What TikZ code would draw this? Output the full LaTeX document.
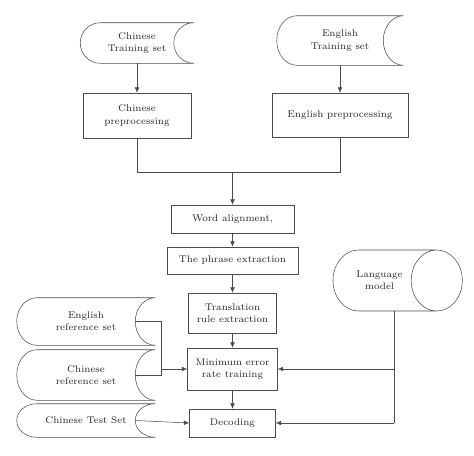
\documentclass[tikz,border=0pt]{standalone}
\usepackage{tikz}
\usetikzlibrary{arrows.meta,shapes.geometric,calc}
\tikzset{
    step-box/.style = {draw=black!70, fill=white, thin, rectangle, align=center, inner sep=2pt, font=\fontsize{7.3}{9.2}\selectfont, text=black!85},
    store-box/.style = {rectangle, align=center, inner sep=2pt, font=\fontsize{7.3}{9.2}\selectfont, text=black!85},
    arrow-line/.style = {draw=black!70, thin, -{Latex[length=4pt,width=3.5pt]}},
    plain-line/.style = {draw=black!70, thin},
}

\begin{document}
\begin{tikzpicture}[x=0.75pt,y=-0.75pt]
\useasboundingbox (0,0) rectangle (474,455);
% training data
\node[store-box, minimum width=84.75pt, minimum height=30pt] (chn-train) at (137,43) {Chinese\\Training set};
\node[store-box, minimum width=94.5pt, minimum height=36.75pt] (eng-train) at (340,40.5) {English\\Training set};
\node[step-box, minimum width=81pt, minimum height=33.75pt] (chn-pre) at (137,115.5) {Chinese\\preprocessing};
\node[step-box, minimum width=102pt, minimum height=33pt] (eng-pre) at (340,115) {English preprocessing};
% main chain
\node[step-box, minimum width=92.25pt, minimum height=21pt] (word) at (232.5,219) {Word alignment,};
\node[step-box, minimum width=98.25pt, minimum height=20.25pt] (phrase) at (232.5,260.5) {The phrase extraction};
\node[step-box, minimum width=66pt, minimum height=30pt] (rule) at (232.5,313) {Translation\\rule extraction};
\node[step-box, minimum width=67.5pt, minimum height=31.5pt] (mert) at (232.5,369) {Minimum error\\rate training};
\node[step-box, minimum width=64.5pt, minimum height=21pt] (decode) at (232.5,423) {Decoding};
% reference data
\node[store-box, minimum width=103.5pt, minimum height=35.25pt] (eng-ref) at (86,321.5) {English\\reference set};
\node[store-box, minimum width=103.5pt, minimum height=37.5pt] (chn-ref) at (86,375) {Chinese\\reference set};
\node[store-box, minimum width=103.5pt, minimum height=24.75pt] (chn-test) at (86,420.5) {Chinese Test Set};
\node[cylinder, draw=black!70, thin, shape aspect=2.1, minimum width=45.75pt, minimum height=97pt, align=center, inner sep=2pt, font=\fontsize{7.3}{9.2}\selectfont, text=black!85] (lm) at (379.5,280.5) {Language\\model};

% outlines of the stored data
\foreach \s in {chn-train,eng-train,eng-ref,chn-ref,chn-test}
    \draw[black!70, thin] let \p1=(\s.north east), \p2=(\s.south west), \n1={(\y1-\y2)/2} in
        (\p1) -- (\x2+15pt,\y1) arc[start angle=90, end angle=270, x radius=15pt, y radius=\n1]
        -- (\x1,\y2) arc[start angle=270, end angle=90, x radius=15pt, y radius=\n1];

\coordinate (join) at (232.5,172);
\coordinate (ref-join) at (161,369);
\coordinate (lm-foot) at (394,423);

\draw[arrow-line] (chn-train.south) -- (chn-pre.north);
\draw[arrow-line] (eng-train.south) -- (eng-pre.north);
\draw[plain-line] (chn-pre.south) |- (join);
\draw[plain-line] (eng-pre.south) |- (join);
\draw[arrow-line] (join) -- (word);
\draw[arrow-line] (word) -- (phrase);
\draw[arrow-line] (phrase) -- (rule);
\draw[arrow-line] (rule) -- (mert);
\draw[arrow-line] (mert) -- (decode);

\draw[plain-line] ([xshift=-15pt]eng-ref.east) -| (ref-join |- chn-ref.east) -- ([xshift=-15pt]chn-ref.east);
\draw[arrow-line] (ref-join) -- (mert.west);
\draw[arrow-line] ([xshift=-15pt]chn-test.east) -- (decode.west);

\draw[plain-line] (lm.south -| lm-foot) -- (lm-foot);
\draw[arrow-line] (lm-foot) -- (decode.east);
\draw[arrow-line] (lm-foot |- mert.east) -- (mert.east);
\end{tikzpicture}
\end{document}
